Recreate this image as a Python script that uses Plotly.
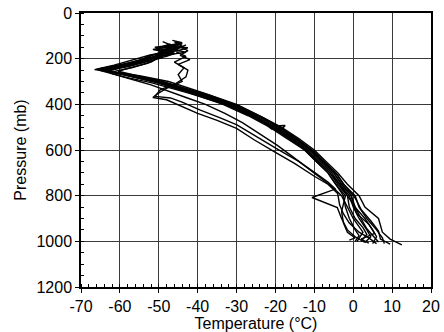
import plotly.graph_objects as go

# Soundings: temperature (°C) vs pressure (mb)
m1_p = [1005, 980, 950, 900, 850, 800, 750, 700, 650, 600, 550, 500, 450, 400, 350, 300, 270, 248, 230, 210, 190, 180, 172, 165, 158, 150, 142, 135]
m1_t = [3.0, 4.5, 3.5, 1.5, 0.0, -1.0, -3.5, -5.5, -8.5, -11.5, -15.5, -20.0, -25.5, -31.5, -41.0, -50.5, -57.5, -66.5, -61.0, -55.5, -51.0, -47.0, -50.0, -46.0, -49.0, -45.0, -48.0, -44.0]

m2_p = [1010, 985, 950, 900, 850, 800, 750, 700, 650, 600, 550, 500, 450, 400, 350, 300, 275, 255, 235, 215, 195, 175, 165, 155, 140]
m2_t = [8.0, 7.5, 6.0, 3.5, 1.5, 0.5, -2.5, -4.5, -7.5, -10.5, -14.5, -19.0, -24.5, -30.5, -39.5, -49.0, -56.0, -63.0, -59.0, -54.0, -50.5, -46.0, -49.5, -45.0, -43.0]

m3_p = [1000, 975, 950, 900, 850, 800, 750, 700, 650, 600, 550, 500, 450, 400, 350, 305, 280, 250, 232, 212, 192, 168, 160, 148, 130]
m3_t = [0.5, 1.5, 0.5, -1.0, -2.0, -2.5, -4.5, -6.5, -9.5, -12.5, -16.5, -21.0, -26.5, -33.0, -42.5, -52.0, -59.0, -65.5, -60.0, -56.0, -52.5, -49.0, -51.5, -47.5, -44.5]

m4_p = [1010, 980, 950, 900, 850, 800, 750, 700, 650, 600, 550, 495, 493, 502, 508, 450, 400, 350, 300, 275, 252, 232, 205, 185, 165, 145, 125]
m4_t = [5.0, 6.0, 5.0, 3.0, 0.5, -0.5, -3.0, -5.0, -8.0, -11.0, -15.0, -20.5, -17.5, -18.0, -21.0, -25.0, -31.0, -40.5, -50.0, -57.0, -64.0, -58.0, -53.0, -49.5, -47.0, -44.0, -46.0]

m5_p = [1015, 990, 960, 900, 850, 800, 750, 700, 650, 600, 550, 500, 450, 400, 350, 300, 275, 258, 240, 215, 190, 180, 172, 165, 157, 150, 140, 130]
m5_t = [12.5, 9.5, 7.5, 6.5, 3.0, 1.5, -1.5, -4.0, -7.0, -10.0, -14.0, -18.5, -24.0, -30.0, -38.5, -47.5, -55.0, -62.0, -57.0, -52.0, -49.5, -46.0, -48.5, -44.5, -47.0, -43.5, -46.0, -44.0]

m6_p = [1000, 970, 940, 900, 850, 800, 750, 700, 650, 600, 550, 500, 450, 400, 350, 300, 275, 250, 230, 208, 185, 170, 160, 140, 125]
m6_t = [2.0, 3.5, 2.5, 0.5, -1.0, -1.5, -4.0, -6.0, -9.0, -12.0, -16.0, -20.5, -26.0, -32.5, -41.5, -51.0, -58.0, -64.5, -58.5, -53.5, -50.0, -47.0, -50.5, -47.0, -49.0]

m7_p = [1008, 990, 965, 925, 880, 840, 800, 750, 700, 650, 600, 550, 500, 450, 400, 350, 300, 275, 253, 233, 210, 195, 185, 175, 165, 160, 150, 142, 130, 120]
m7_t = [4.0, 2.0, 5.5, 4.0, 1.0, 0.0, -0.5, -3.0, -5.0, -8.0, -11.0, -15.0, -19.5, -25.0, -31.0, -40.0, -49.5, -56.5, -63.5, -57.5, -52.5, -49.0, -51.0, -47.5, -50.0, -45.0, -48.0, -47.5, -44.0, -46.5]

m8_p = [995, 985, 960, 920, 870, 800, 750, 700, 650, 600, 550, 500, 450, 400, 350, 300, 272, 246, 228, 205, 183, 175, 162, 150, 140]
m8_t = [-1.0, 0.5, -1.5, -2.5, -3.0, -2.0, -4.5, -6.5, -9.5, -12.5, -17.0, -21.5, -27.0, -33.5, -42.0, -51.5, -58.5, -66.0, -61.5, -56.5, -52.0, -48.0, -48.5, -51.0, -46.0]

m9_p = [1003, 975, 945, 900, 850, 800, 750, 700, 650, 600, 550, 500, 450, 400, 360, 320, 290, 262, 244, 226, 205, 188, 170, 155, 138]
m9_t = [6.5, 5.0, 3.5, 2.0, 0.5, -1.5, -3.5, -6.0, -9.0, -12.0, -16.0, -21.0, -26.0, -32.0, -39.0, -46.5, -54.0, -61.0, -65.0, -59.0, -54.5, -52.5, -49.0, -47.5, -45.0]

m10_p = [1012, 990, 955, 910, 860, 810, 760, 710, 660, 610, 560, 510, 460, 410, 360, 330, 300, 275, 255, 240, 220, 200, 190, 180, 172, 165, 160, 152, 145, 135, 128]
m10_t = [9.5, 7.0, 6.5, 4.5, 2.0, 0.5, -2.0, -4.0, -7.0, -10.0, -14.0, -18.0, -23.0, -29.0, -37.0, -43.0, -49.5, -55.5, -60.5, -57.5, -53.0, -50.5, -48.0, -46.5, -43.0, -45.0, -44.0, -42.5, -47.5, -44.0, -45.5]

l1_p = [1005, 980, 950, 900, 852, 808, 771, 740, 700, 650, 595, 540, 490, 459, 425, 390, 372, 365, 335, 313, 280, 250, 225, 204, 185, 165, 145]
l1_t = [3.0, 0.5, -1.5, -3.0, -4.1, -10.6, -4.6, -6.5, -9.8, -14.0, -19.6, -25.0, -29.9, -34.2, -39.3, -44.0, -47.0, -50.9, -49.6, -46.0, -43.0, -42.5, -45.0, -42.0, -44.5, -42.5, -45.0]

l2_p = [1010, 985, 960, 920, 880, 840, 790, 750, 715, 660, 610, 555, 505, 470, 440, 405, 380, 370, 355, 330, 300, 270, 240, 215, 190, 170]
l2_t = [6.0, 4.0, 1.5, -1.0, -2.5, -3.5, -4.0, -6.5, -10.0, -15.0, -20.0, -25.5, -30.0, -35.0, -40.0, -44.5, -48.0, -51.5, -50.5, -48.0, -44.0, -45.0, -43.5, -46.0, -43.0, -45.5]

l3_p = [1000, 960, 900, 850, 800, 760, 720, 680, 630, 580, 530, 480, 440, 400, 370, 340, 315, 290, 265, 250, 235, 215, 195, 175, 155, 135]
l3_t = [1.0, 2.5, 0.0, -1.5, -3.0, -5.5, -8.5, -11.5, -15.5, -19.5, -24.0, -28.5, -33.0, -38.0, -43.0, -48.0, -52.0, -57.0, -62.0, -64.0, -59.5, -56.0, -52.0, -49.0, -50.5, -47.0]

soundings = [
    (m1_t, m1_p), (m2_t, m2_p), (m3_t, m3_p), (m4_t, m4_p), (m5_t, m5_p),
    (m6_t, m6_p), (m7_t, m7_p), (m8_t, m8_p), (m9_t, m9_p), (m10_t, m10_p),
    (l1_t, l1_p), (l2_t, l2_p), (l3_t, l3_p),
]

x_ticks = [-70, -60, -50, -40, -30, -20, -10, 0, 10, 20]
y_ticks = [0, 200, 400, 600, 800, 1000, 1200]

FONT = "Liberation Sans, Arial, Helvetica, sans-serif"

fig = go.Figure()
for t, p in soundings:
    fig.add_trace(go.Scatter(x=t, y=p, mode="lines",
                             line=dict(color="black", width=1.4),
                             showlegend=False, hoverinfo="skip"))

axis_common = dict(
    showgrid=True, gridcolor="#3a3a3a", gridwidth=1,
    showline=True, linecolor="black", linewidth=1.5, mirror=True,
    ticks="outside", ticklen=4, tickcolor="black", tickwidth=1,
    zeroline=False, automargin=False,
    tickfont=dict(family=FONT, size=16, color="black"),
)

fig.update_layout(
    width=444, height=332,
    margin=dict(l=81, r=13, t=13, b=45),
    paper_bgcolor="white", plot_bgcolor="white",
    font=dict(family=FONT, size=16, color="black"),
    xaxis=dict(range=[-70, 20], tickvals=x_ticks, ticktext=[str(v) for v in x_ticks],
               title=dict(text="Temperature (°C)", standoff=2,
                          font=dict(family=FONT, size=16, color="black")),
               minor=dict(dtick=2, ticks="inside", ticklen=3, tickcolor="black", showgrid=False),
               **axis_common),
    yaxis=dict(range=[1200, 0], tickvals=y_ticks, ticktext=[str(v) for v in y_ticks],
               title=dict(text="Pressure (mb)", standoff=6,
                          font=dict(family=FONT, size=16, color="black")),
               minor=dict(dtick=50, ticks="inside", ticklen=3, tickcolor="black", showgrid=False),
               **axis_common),
)

fig.write_html("out.html")
